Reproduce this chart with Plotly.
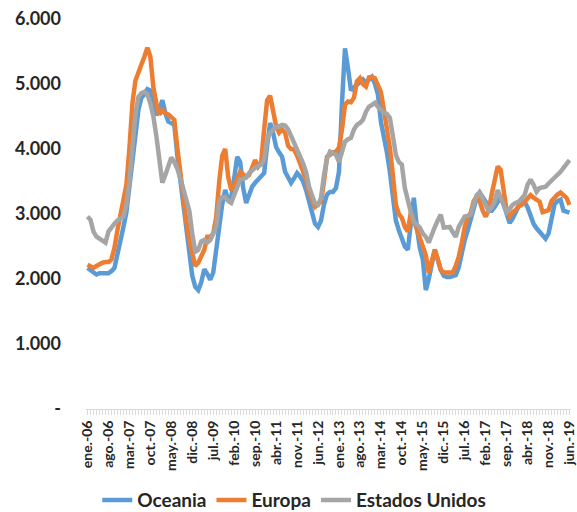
"""Precios mensuales: Oceania, Europa y Estados Unidos (ene.-06 a jun.-19)."""

import plotly.graph_objects as go

MONTHS = ["ene.", "feb.", "mar.", "abr.", "may.", "jun.",
          "jul.", "ago.", "sep.", "oct.", "nov.", "dic."]
YEARS = list(range(2006, 2020))

# category labels, one per month from ene.-06 to jun.-19
periods = [f"{m}-{str(y)[2:]}" for y in YEARS for m in MONTHS][:162]

tick_labels = [
    "ene.-06", "ago.-06", "mar.-07", "oct.-07", "may.-08", "dic.-08",
    "jul.-09", "feb.-10", "sep.-10", "abr.-11", "nov.-11", "jun.-12",
    "ene.-13", "ago.-13", "mar.-14", "oct.-14", "may.-15", "dic.-15",
    "jul.-16", "feb.-17", "sep.-17", "abr.-18", "nov.-18", "jun.-19",
]

y_tick_values = [0, 1000, 2000, 3000, 4000, 5000, 6000]
y_tick_labels = ["-", "1.000", "2.000", "3.000", "4.000", "5.000", "6.000"]

oceania = [
    2170, 2140, 2110, 2070, 2090, 2090, 2080, 2090, 2120, 2170,
    2380, 2570, 2800, 3030, 3400, 3760, 4200, 4600, 4790, 4840,
    4920, 4900, 4700, 4520, 4600, 4750, 4550, 4420, 4400, 4370,
    3900, 3500, 3150, 2830, 2400, 2050, 1880, 1830, 1950, 2150,
    2080, 1990, 2100, 2400, 2800, 3150, 3370, 3200, 3260, 3550,
    3880, 3800, 3400, 3170, 3300, 3420, 3480, 3530, 3600, 3630,
    4050, 4400, 4250, 4030, 3950, 3880, 3650, 3570, 3480, 3550,
    3630, 3580, 3500, 3370, 3200, 3060, 2850, 2800, 2900, 3150,
    3300, 3340, 3340, 3400, 3650, 4700, 5550, 5250, 4900, 4950,
    4990, 5050, 5070, 5020, 5060, 5110, 5000, 4840, 4420, 4200,
    3950, 3650, 3300, 2900, 2750, 2630, 2500, 2450, 2900, 3250,
    2800, 2480, 2300, 1830, 2000, 2200, 2450, 2300, 2140, 2050,
    2030, 2030, 2040, 2060, 2180, 2400, 2600, 2750, 2910, 3100,
    3250, 3330, 3250, 3190, 3050, 3050, 3110, 3200, 3260, 3150,
    3000, 2860, 2930, 3020, 3120, 3170, 3190, 3100, 2960, 2850,
    2780, 2720, 2660, 2620, 2700, 2900, 3150, 3200, 3220, 3050,
    3030, 3020,
]

europa = [
    2220, 2200, 2170, 2200, 2230, 2250, 2260, 2260, 2300, 2480,
    2750, 2990, 3200, 3450, 4000, 4700, 5050, 5200, 5300, 5420,
    5560, 5420, 4950, 4700, 4530, 4600, 4550, 4530, 4480, 4450,
    4020, 3600, 3200, 2900, 2600, 2370, 2200, 2250, 2340, 2450,
    2650, 2650, 2700, 2950, 3500, 3900, 4000, 3570, 3370, 3450,
    3530, 3650, 3600, 3570, 3600, 3700, 3830, 3730, 3790, 4300,
    4750, 4820, 4560, 4350, 4250, 4300, 4250, 4050, 4000, 3990,
    3900, 3790, 3650, 3530, 3330, 3200, 3110, 3150, 3190, 3500,
    3880, 3910, 3950, 3960, 4020, 4300, 4680, 4730, 4720, 4790,
    5040, 5090, 5000, 4960, 5100, 5110, 5090, 4980, 4880, 4600,
    4300, 4020, 3600, 3140, 3000, 2940, 2800, 2730, 3030, 2900,
    2790, 2650, 2500, 2370, 2100, 2250, 2450, 2300, 2140, 2100,
    2095, 2095, 2100, 2200, 2340, 2550, 2800, 2950, 3020, 3200,
    3260, 3200, 3050, 2960, 3050, 3300, 3550, 3730, 3680, 3330,
    3050, 2960, 3030, 3060, 3120, 3140, 3190, 3250, 3290, 3250,
    3210, 3190, 3030, 3040, 3060, 3200, 3260, 3300, 3330, 3300,
    3250, 3140,
]

estados_unidos = [
    2960, 2910, 2730, 2650, 2620, 2580, 2560, 2730, 2800, 2850,
    2900, 2930, 2960, 3140, 3500, 4020, 4530, 4800, 4860, 4880,
    4840, 4700, 4500, 4200, 3800, 3480, 3600, 3750, 3870, 3800,
    3700, 3550, 3400, 3200, 3050, 2700, 2420, 2450, 2580, 2600,
    2560, 2600, 2700, 2800, 3200, 3260, 3260, 3200, 3170, 3300,
    3400, 3530, 3540, 3560, 3630, 3680, 3710, 3740, 3760, 3830,
    4140, 4250, 4300, 4340, 4350, 4370, 4360, 4300, 4200, 4100,
    4000, 3880, 3780, 3650, 3420, 3290, 3160, 3140, 3250, 3600,
    3850, 3960, 3930, 3910, 3800, 3960, 4110, 4150, 4170, 4300,
    4370, 4400, 4450, 4570, 4650, 4680, 4710, 4650, 4600, 4560,
    4540, 4480, 4200, 3910, 3800, 3760, 3400, 3190, 3030, 2880,
    2830, 2790, 2700, 2650, 2560, 2700, 2800, 2900, 2990, 2790,
    2800, 2800, 2720, 2650, 2800, 2900, 2960, 2970, 2990, 3150,
    3290, 3330, 3250, 3140, 3050, 3100, 3190, 3370, 3250, 3140,
    3030, 3080, 3140, 3170, 3190, 3240, 3290, 3450, 3530, 3450,
    3340, 3400, 3410, 3420, 3470, 3510, 3570, 3610, 3650, 3710,
    3780, 3830,
]

FONT = "Lato, 'Open Sans', sans-serif"

fig = go.Figure()

for name, values, color in [
    ("Oceania", oceania, "#5B9BD5"),
    ("Europa", europa, "#ED7D31"),
    ("Estados Unidos", estados_unidos, "#A5A5A5"),
]:
    fig.add_trace(
        go.Scatter(
            x=periods,
            y=values,
            mode="lines",
            name=name,
            line={"color": color, "width": 4.5},
        )
    )

fig.update_layout(
    width=577,
    height=512,
    margin={"l": 86, "r": 6, "t": 19, "b": 103},
    plot_bgcolor="white",
    paper_bgcolor="white",
    font={"family": FONT, "color": "#262626"},
    showlegend=True,
    legend={
        "orientation": "h",
        "xref": "container",
        "yref": "container",
        "x": 0.51,
        "xanchor": "center",
        "y": 0.023,
        "yanchor": "middle",
        "font": {"size": 19, "family": FONT, "weight": "bold", "color": "#262626"},
    },
)

fig.update_xaxes(
    type="category",
    tickmode="array",
    tickvals=periods,
    ticktext=[p if p in tick_labels else "" for p in periods],
    tickangle=-90,
    tickfont={"size": 14, "family": FONT, "weight": "bold", "color": "#262626"},
    ticklabeloverflow="allow",
    showline=True,
    linecolor="#D9D9D9",
    linewidth=1,
    ticks="outside",
    ticklen=5,
    tickcolor="#D9D9D9",
    showgrid=False,
    zeroline=False,
    automargin=False,
    range=[-0.5, 161.5],
)

fig.update_yaxes(
    range=[0, 6000],
    tickmode="array",
    tickvals=y_tick_values,
    ticktext=y_tick_labels,
    tickfont={"size": 18, "family": FONT, "weight": "bold", "color": "#262626"},
    ticklabeloverflow="allow",
    ticklabelstandoff=24,
    showgrid=False,
    zeroline=False,
    showline=False,
    automargin=False,
)

# drop the browser's default body margin so the figure fills the window
fig.write_html(
    "out.html",
    config={"displayModeBar": False},
    post_script="document.body.style.margin = '0'; document.body.style.overflow = 'hidden';",
)
